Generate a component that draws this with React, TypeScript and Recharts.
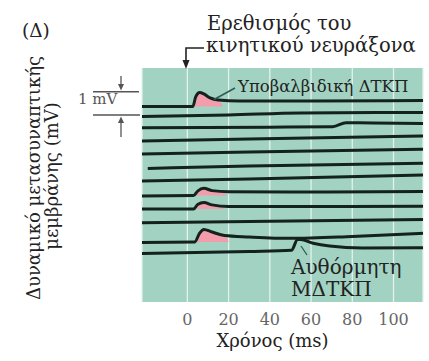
import { ComposedChart, Line, Area, XAxis, YAxis, CartesianGrid } from 'recharts'

const FONT = 'DejaVu Serif'

// time ticks (ms)
const xTicks = [0, 20, 40, 60, 80, 100]

// 12 intracellular recordings, [time ms, membrane potential mV (stacked offset)]
const trace1 = [[-22, 8.35], [2.7, 8.36], [4, 8.76], [6, 8.95], [8, 8.89], [11, 8.72], [15, 8.63], [25, 8.59], [60, 8.59], [114.3, 8.61]]
const trace2 = [[-22, 7.93], [20, 7.99], [55, 8.08], [114.3, 8.1]]
const trace3 = [[-22, 7.45], [40, 7.47], [70.5, 7.49], [77, 7.66], [90, 7.65], [114.3, 7.63]]
const trace4 = [[-22, 6.88], [30, 6.97], [114.3, 7.09]]
const trace5 = [[-22, 6.32], [30, 6.41], [114.3, 6.53]]
const trace6 = [[-19.2, 5.71], [30, 5.81], [114.3, 5.93]]
const trace7 = [[-22, 5.17], [30, 5.26], [114.3, 5.43]]
const trace8 = [[-22, 4.53], [3, 4.55], [5, 4.74], [8, 4.86], [12, 4.76], [20, 4.71], [50, 4.7], [114.3, 4.72]]
const trace9 = [[-22, 3.97], [3, 3.97], [5, 4.17], [8, 4.25], [12, 4.15], [20, 4.08], [50, 4.08], [114.3, 4.09]]
const trace10 = [[-22, 3.39], [30, 3.44], [114.3, 3.53]]
const trace11 = [[-22, 2.54], [3.5, 2.56], [6, 2.95], [8, 3.1], [12, 2.99], [18, 2.84], [30, 2.78], [50, 2.72], [80, 2.8], [114.3, 2.94]]
const trace12 = [[-22, 2.07], [30, 2.16], [50.5, 2.21], [53.5, 2.67], [55, 2.67], [61, 2.51], [69, 2.39], [85, 2.31], [114.3, 2.32]]

// subthreshold EPSP shading (pink), [time, mV] and its baseline
const epsp1 = [[2.7, 8.36], [4, 8.76], [6, 8.95], [8, 8.89], [11, 8.72], [15, 8.63], [17, 8.4]]
const epsp8 = [[3, 4.55], [5, 4.74], [8, 4.86], [12, 4.76], [17, 4.7], [19, 4.57]]
const epsp9 = [[3, 3.97], [5, 4.17], [8, 4.25], [12, 4.15], [16, 4.1], [18, 3.99]]
const epsp11 = [[3.5, 2.56], [6, 2.95], [8, 3.1], [12, 2.99], [18, 2.84], [20, 2.6]]
const epspBase = [8.36, 4.55, 3.97, 2.56]

const traces = [trace1, trace2, trace3, trace4, trace5, trace6, trace7, trace8, trace9, trace10, trace11, trace12]
const epsps = [epsp1, epsp8, epsp9, epsp11]

function buildRows() {
  const ts = new Set<number>()
  traces.forEach(tr => tr.forEach(p => ts.add(p[0])))
  epsps.forEach(tr => tr.forEach(p => ts.add(p[0])))
  return [...ts].sort((a, b) => a - b).map(t => {
    const row: Record<string, number> = { t }
    traces.forEach((tr, i) => {
      const p = tr.find(q => q[0] === t)
      if (p) row['s' + i] = p[1]
    })
    epsps.forEach((tr, i) => {
      const p = tr.find(q => q[0] === t)
      if (p) row['p' + i] = p[1]
    })
    return row
  })
}

const rows = buildRows()

const txt = { fontFamily: FONT }

export default function App() {
  return (
    <div style={{ position: 'absolute', left: 0, top: 0, width: 429, height: 361, background: '#fff', fontFamily: FONT }}>
      <ComposedChart
        width={429}
        height={361}
        data={rows}
        margin={{ top: 68, right: 6, bottom: 0, left: 142 }}
      >
        <CartesianGrid
          horizontal={false}
          fill="#a2d2c1"
          fillOpacity={1}
          stroke="#e2f2ec"
          strokeWidth={1.3}
        />
        <XAxis
          type="number"
          dataKey="t"
          domain={[-22, 114.3]}
          ticks={xTicks}
          allowDataOverflow
          axisLine={false}
          tickLine={false}
          tickMargin={6}
          height={59}
          tick={{ fill: '#666', fontSize: 16, style: txt }}
        />
        <YAxis hide type="number" domain={[0, 10]} allowDataOverflow />
        {epsps.map((_, i) => (
          <Area
            key={'p' + i}
            dataKey={'p' + i}
            type="monotone"
            baseValue={epspBase[i]}
            connectNulls
            stroke="none"
            fill="#f39cac"
            fillOpacity={1}
            isAnimationActive={false}
          />
        ))}
        {traces.map((_, i) => (
          <Line
            key={'s' + i}
            dataKey={'s' + i}
            type="monotone"
            connectNulls
            dot={false}
            stroke="#13221c"
            strokeWidth={3}
            isAnimationActive={false}
          />
        ))}
      </ComposedChart>
      <svg
        width={429}
        height={361}
        style={{ position: 'absolute', left: 0, top: 0, pointerEvents: 'none', fontFamily: FONT }}
      >
        <text x={22} y={37} fontSize={18.5} fill="#222" style={txt}>(Δ)</text>
        <text x={207} y={29.5} fontSize={19.5} fill="#222" style={txt}>Ερεθισμός του</text>
        <text x={206} y={51.5} fontSize={19.5} fill="#222" style={txt}>κινητικού νευράξονα</text>
        <polyline points="204,48 186,48 186,61" fill="none" stroke="#222" strokeWidth={1.6} />
        <polygon points="182.5,60 189.5,60 186,69" fill="#222" />

        <text x={238} y={92} fontSize={16.5} fill="#222" style={txt}>Υποβαλβιδική ΔΤΚΠ</text>
        <line x1={235} y1={88} x2={214} y2={99.5} stroke="#2f5d50" strokeWidth={1.5} />

        <text x={291} y={273.5} fontSize={20} fill="#222" style={txt}>Αυθόρμητη</text>
        <text x={291} y={296} fontSize={20} fill="#222" style={txt}>ΜΔΤΚΠ</text>
        <line x1={301} y1={246} x2={307} y2={255} stroke="#2f5d50" strokeWidth={1.3} />

        <text x={78} y={103.5} fontSize={15} fill="#555" style={txt}>1 mV</text>
        <line x1={93} y1={91.7} x2={139} y2={91.7} stroke="#555" strokeWidth={1.5} />
        <line x1={93} y1={115} x2={140} y2={115} stroke="#555" strokeWidth={1.5} />
        <line x1={121} y1={76} x2={121} y2={85} stroke="#555" strokeWidth={1.3} />
        <polygon points="118,84 124,84 121,90.5" fill="#555" />
        <line x1={121} y1={137} x2={121} y2={123} stroke="#555" strokeWidth={1.3} />
        <polygon points="118,123 124,123 121,116.5" fill="#555" />

        <text transform="translate(40,178) rotate(-90)" textAnchor="middle" fontSize={18} fill="#222" style={txt}>
          Δυναμικό μετασυναπτικής
        </text>
        <text transform="translate(58,176) rotate(-90)" textAnchor="middle" fontSize={18} fill="#222" style={txt}>
          μεμβράνης (mV)
        </text>
        <text x={272.5} y={347} textAnchor="middle" fontSize={18} fill="#222" style={txt}>Χρόνος (ms)</text>
      </svg>
    </div>
  )
}
